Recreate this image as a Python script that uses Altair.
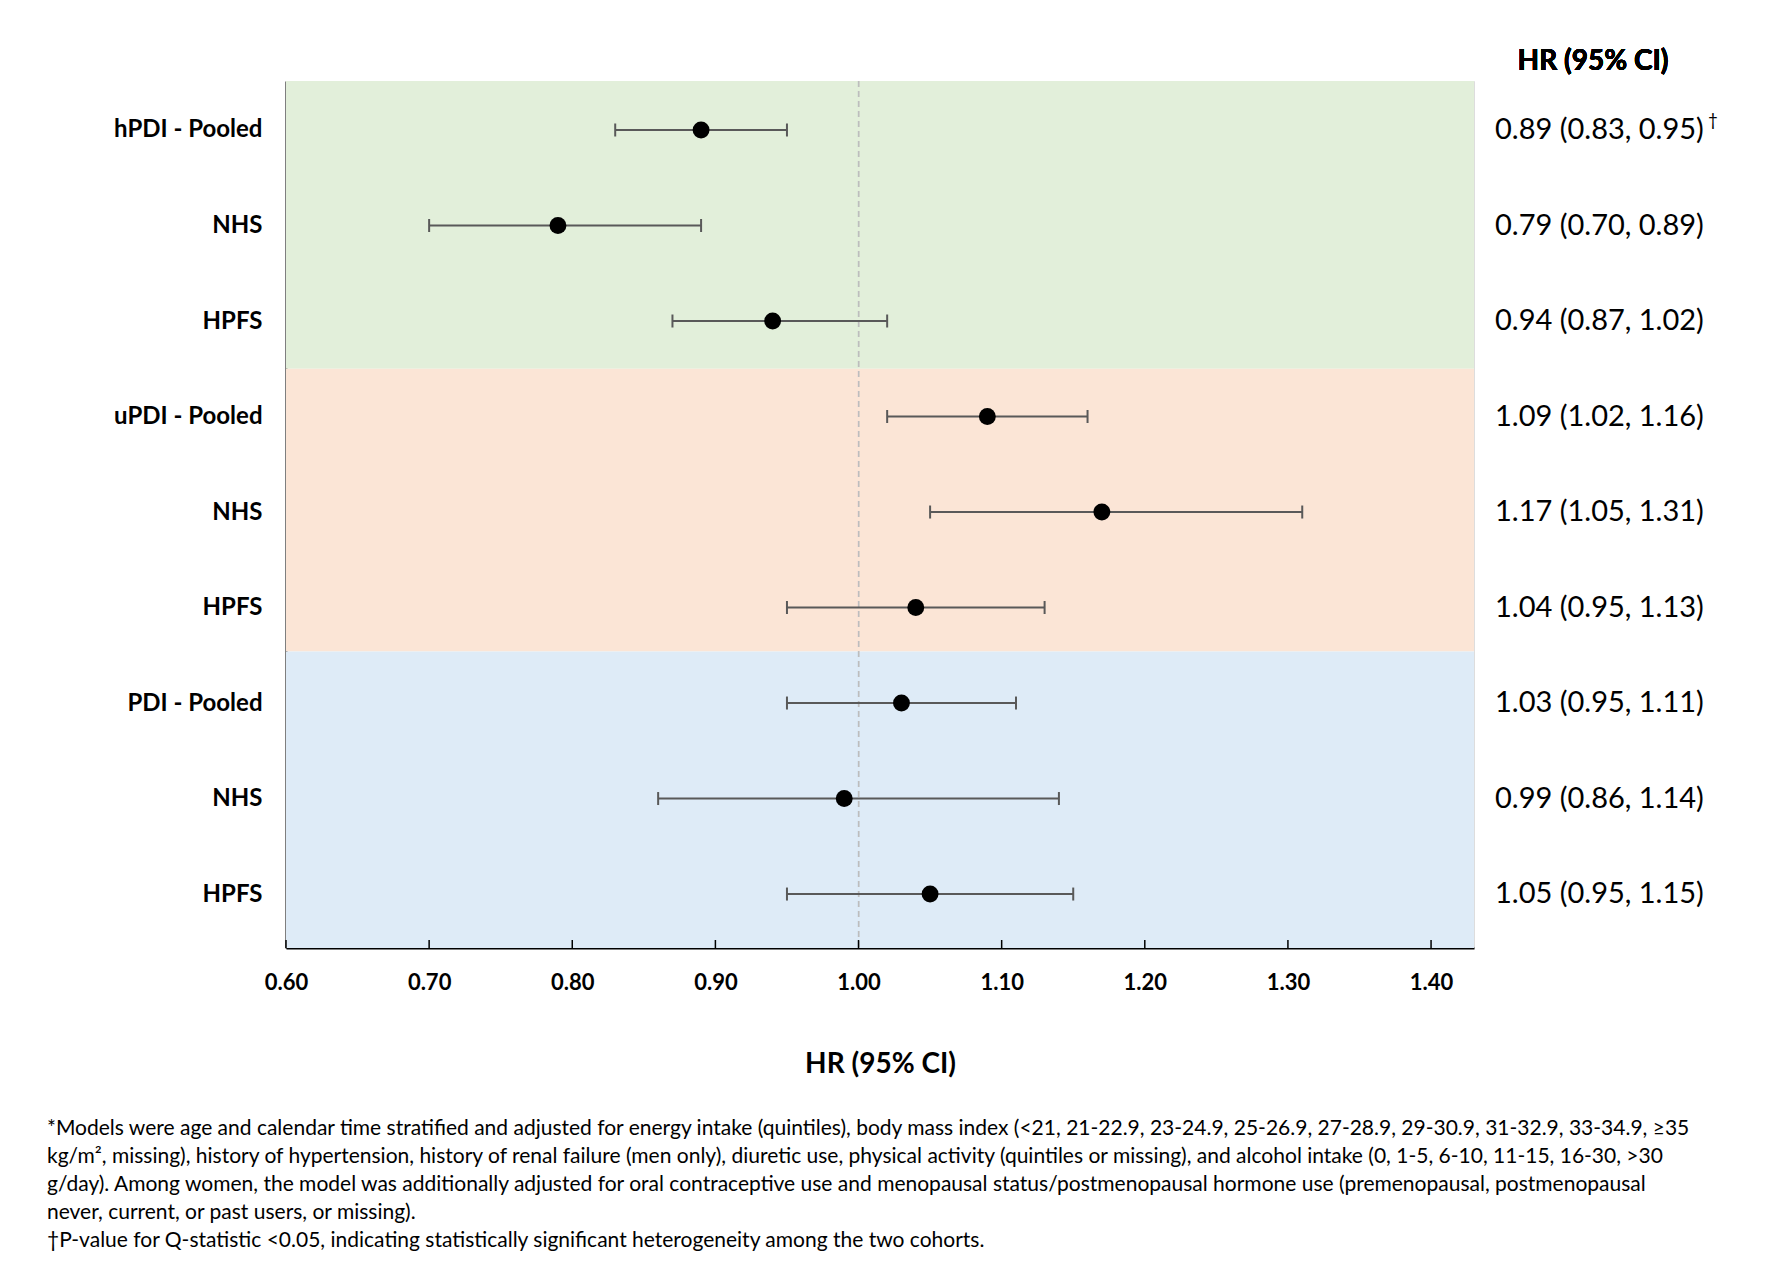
import json
import altair as alt
import pandas as pd

# ---- data ----
labels = ["hPDI - Pooled", "NHS", "HPFS", "uPDI - Pooled", "NHS", "HPFS",
          "PDI - Pooled", "NHS", "HPFS"]
hr = [0.89, 0.79, 0.94, 1.09, 1.17, 1.04, 1.03, 0.99, 1.05]
lo = [0.83, 0.70, 0.87, 1.02, 1.05, 0.95, 0.95, 0.86, 0.95]
hi = [0.95, 0.89, 1.02, 1.16, 1.31, 1.13, 1.11, 1.14, 1.15]
dagger = [True, False, False, False, False, False, False, False, False]

band_start = [-0.513, 2.5, 5.46]
band_end = [2.5, 5.46, 8.565]
band_color = ["#E2EFDA", "#FBE5D6", "#DEEBF7"]

tick_values = [0.60, 0.70, 0.80, 0.90, 1.00, 1.10, 1.20, 1.30, 1.40]
x_domain = [0.60, 1.43]
ref_value = 1.00

footnote = [
    "*Models were age and calendar time stratified and adjusted for energy intake (quintiles), body mass index (<21, 21-22.9, 23-24.9, 25-26.9, 27-28.9, 29-30.9, 31-32.9, 33-34.9, \u226535",
    "kg/m\u00b2, missing), history of hypertension, history of renal failure (men only), diuretic use, physical activity (quintiles or missing), and alcohol intake (0, 1-5, 6-10, 11-15, 16-30, >30",
    "g/day). Among women, the model was additionally adjusted for oral contraceptive use and menopausal status/postmenopausal hormone use (premenopausal, postmenopausal",
    "never, current, or past users, or missing).",
    "\u2020P-value for Q-statistic <0.05, indicating statistically significant heterogeneity among the two cohorts.",
]

# ---- tables ----
rows = pd.DataFrame({
    "row": list(range(len(labels))),
    "label": labels,
    "hr": hr,
    "lo": lo,
    "hi": hi,
    "dagger": dagger,
})
rows["txt"] = [f"{h:.2f} ({l:.2f}, {u:.2f})" for h, l, u in zip(hr, lo, hi)]
bands = pd.DataFrame({"y0": band_start, "y1": band_end, "c": band_color})
ticks_df = pd.DataFrame({"t": tick_values})

W, H = 1188, 867
FONT = "Lato"

yscale = alt.Scale(domain=[-0.513, 8.565], reverse=True, nice=False, zero=False)
xscale = alt.Scale(domain=x_domain, nice=False, zero=False)

label_expr = json.dumps(labels) + "[datum.value]"
yaxis = alt.Axis(
    values=list(range(len(labels))), labelExpr=label_expr, title=None,
    ticks=False, grid=False, domainColor="black", domainWidth=2,
    labelFont=FONT, labelFontWeight="bold", labelFontSize=24,
    labelColor="black", labelPadding=24,
)
xaxis = alt.Axis(
    values=tick_values, format=".2f", title="HR (95% CI)",
    ticks=False, grid=False, domainColor="black", domainWidth=2,
    labelFont=FONT, labelFontWeight="bold", labelFontSize=22,
    labelColor="black", labelPadding=24, labelFlush=False,
    titleFont=FONT, titleFontWeight="bold", titleFontSize=28,
    titleColor="black", titlePadding=57,
)

band_layer = alt.Chart(bands).mark_rect().encode(
    x=alt.value(0), x2=alt.value(W),
    y=alt.Y("y0:Q", scale=yscale, axis=yaxis), y2="y1:Q",
    color=alt.Color("c:N", scale=None),
)

ref_layer = alt.Chart(rows).mark_rule(
    color="#BDBDBD", strokeWidth=1.1, strokeDash=[6, 4]
).encode(
    x=alt.datum(ref_value, scale=xscale, axis=xaxis),
)

err_layer = alt.Chart(rows).mark_rule(color="#595959", strokeWidth=2).encode(
    x=alt.X("lo:Q", scale=xscale, axis=xaxis), x2="hi:Q",
    y=alt.Y("row:Q", scale=yscale, axis=yaxis),
)

cap_mark = dict(shape="M0,-1V1", filled=False, color="#595959",
                strokeWidth=2, size=169, opacity=1)
cap_lo = alt.Chart(rows).mark_point(**cap_mark).encode(
    x=alt.X("lo:Q", scale=xscale, axis=xaxis),
    y=alt.Y("row:Q", scale=yscale, axis=yaxis),
)
cap_hi = alt.Chart(rows).mark_point(**cap_mark).encode(
    x=alt.X("hi:Q", scale=xscale, axis=xaxis),
    y=alt.Y("row:Q", scale=yscale, axis=yaxis),
)

pt_layer = alt.Chart(rows).mark_circle(color="black", size=285, opacity=1).encode(
    x=alt.X("hr:Q", scale=xscale, axis=xaxis),
    y=alt.Y("row:Q", scale=yscale, axis=yaxis),
)

val_layer = alt.Chart(rows).mark_text(
    align="left", baseline="middle", font=FONT, fontSize=29, color="black"
).encode(
    x=alt.value(W + 21),
    y=alt.Y("row:Q", scale=yscale, axis=yaxis),
    text="txt:N",
)

dag_layer = alt.Chart(rows).transform_filter("datum.dagger").mark_text(
    align="left", baseline="middle", font=FONT, fontSize=17, color="black",
    text="\u2020", dy=-9,
).encode(
    x=alt.value(W + 21 + 213),
    y=alt.Y("row:Q", scale=yscale, axis=yaxis),
)

tick_layer = alt.Chart(ticks_df).mark_rule(color="black", strokeWidth=1.5).encode(
    x=alt.X("t:Q", scale=xscale, axis=xaxis),
    y=alt.value(H - 8), y2=alt.value(H),
)

header_layer = alt.Chart(rows).mark_text(
    align="center", baseline="middle", font=FONT, fontSize=28,
    fontWeight="bold", color="black", text="HR (95% CI)",
).encode(x=alt.value(W + 119), y=alt.value(-19))

chart = alt.layer(
    band_layer, ref_layer, err_layer, cap_lo, cap_hi, pt_layer,
    val_layer, dag_layer, tick_layer, header_layer,
).properties(
    width=W, height=H,
    autosize=alt.AutoSizeParams(type="none"),
    padding={"left": 278, "top": 73, "right": 289, "bottom": 329},
    title=alt.TitleParams(
        text=footnote, orient="bottom", anchor="start", frame="group",
        dx=-239, offset=40, font=FONT, fontSize=21, fontWeight="normal",
        lineHeight=28, color="black", baseline="top",
    ),
).configure_view(stroke=None).configure(font=FONT)

chart.save("out.html", embed_options={"renderer": "svg", "actions": False})
